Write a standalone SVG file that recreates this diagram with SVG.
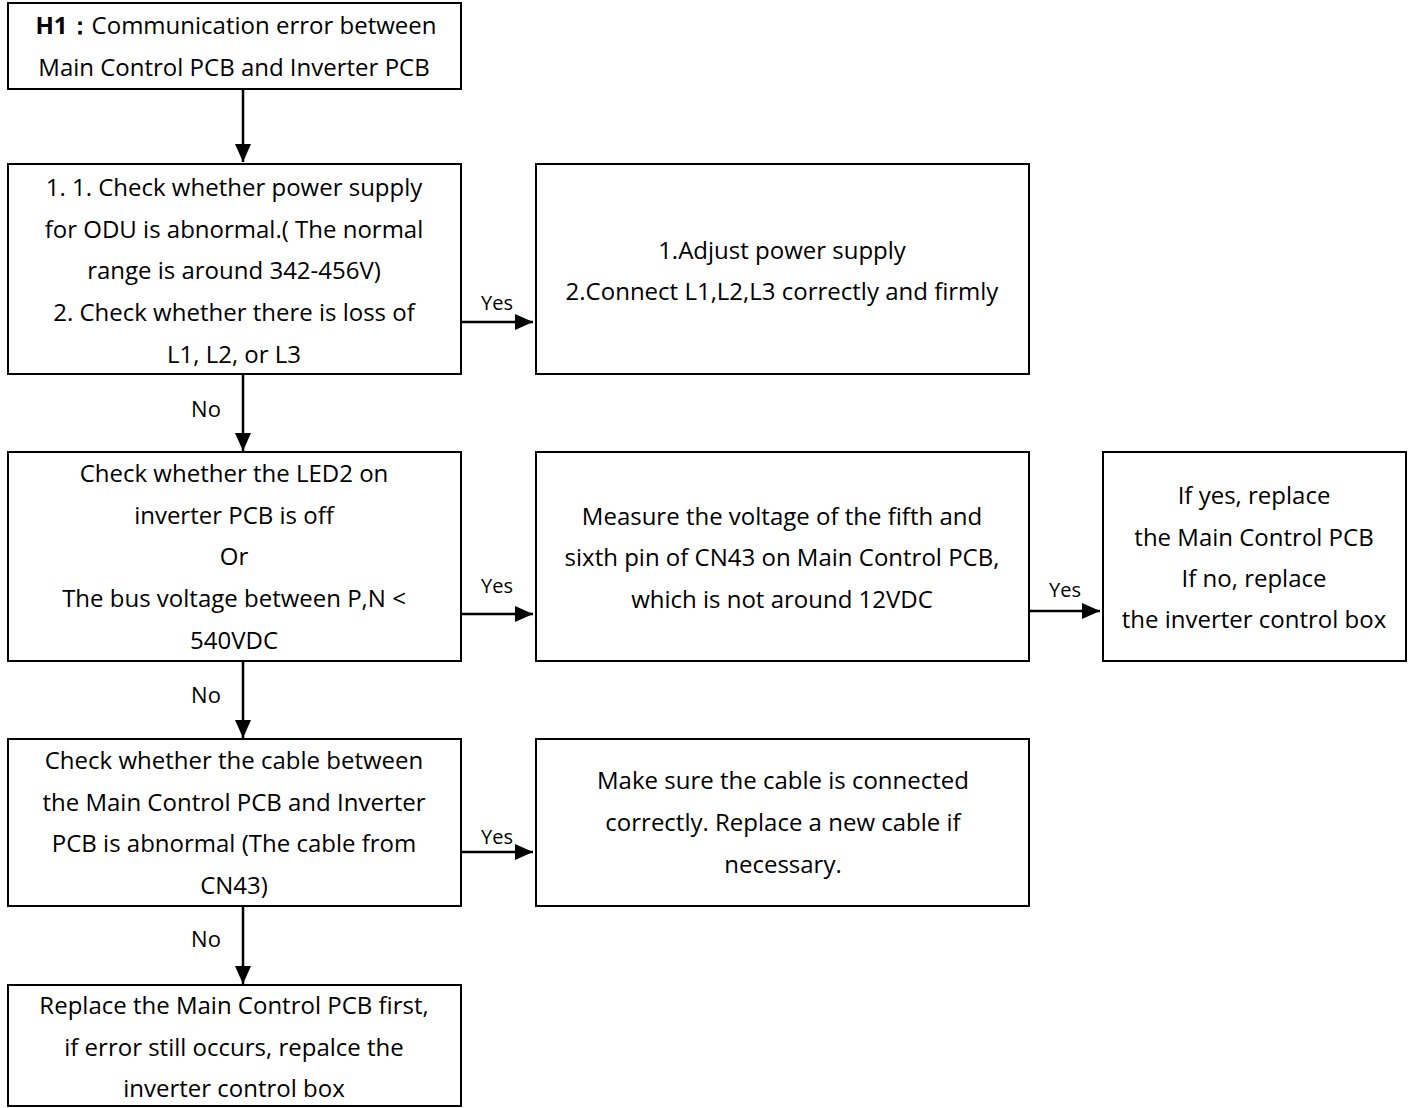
<svg xmlns="http://www.w3.org/2000/svg" width="1409" height="1108" viewBox="0 0 1409 1108">
<style>
.box{fill:#fff;stroke:#000;stroke-width:2}
text{font-family:"Open Sans","Liberation Sans",Arial,sans-serif;font-size:24px;fill:#000}
.c{text-anchor:middle}
.lbl{font-size:20px;text-anchor:middle}
.no{font-size:22px;text-anchor:middle}
.edge{stroke:#000;stroke-width:2.5;fill:none}
</style>
<defs>
<marker id="ah" markerUnits="userSpaceOnUse" markerWidth="20" markerHeight="16" refX="18" refY="8" orient="auto">
<path d="M0,0 L18,8 L0,16 Z" fill="#000"/>
</marker>
</defs>
<rect width="1409" height="1108" fill="#fff"/>
<g id="n1"><rect class="box" x="8" y="3" width="453" height="86"/>
<text class="c" x="236" y="34"><tspan font-weight="bold">H1：</tspan>Communication error between</text>
<text class="c" x="234" y="76">Main Control PCB and Inverter PCB</text></g>
<g id="n2"><rect class="box" x="8" y="164" width="453" height="210"/>
<text class="c" x="234" y="196">1. 1. Check whether power supply</text>
<text class="c" x="234" y="238">for ODU is abnormal.( The normal</text>
<text class="c" x="234" y="279">range is around 342-456V)</text>
<text class="c" x="234" y="321">2. Check whether there is loss of</text>
<text class="c" x="234" y="363">L1, L2, or L3</text></g>
<g id="n3"><rect class="box" x="536" y="164" width="493" height="210"/>
<text class="c" x="782" y="259">1.Adjust power supply</text>
<text class="c" x="782" y="300">2.Connect L1,L2,L3 correctly and firmly</text></g>
<g id="n4"><rect class="box" x="8" y="452" width="453" height="209"/>
<text class="c" x="234" y="482">Check whether the LED2 on</text>
<text class="c" x="234" y="524">inverter PCB is off</text>
<text class="c" x="234" y="565">Or</text>
<text class="c" x="234" y="607">The bus voltage between P,N &lt;</text>
<text class="c" x="234" y="649">540VDC</text></g>
<g id="n5"><rect class="box" x="536" y="452" width="493" height="209"/>
<text class="c" x="782" y="525">Measure the voltage of the fifth and</text>
<text class="c" x="782" y="566">sixth pin of CN43 on Main Control PCB,</text>
<text class="c" x="782" y="608">which is not around 12VDC</text></g>
<g id="n6"><rect class="box" x="1103" y="452" width="303" height="209"/>
<text class="c" x="1254" y="504">If yes, replace</text>
<text class="c" x="1254" y="546">the Main Control PCB</text>
<text class="c" x="1254" y="587">If no, replace</text>
<text class="c" x="1254" y="628">the inverter control box</text></g>
<g id="n7"><rect class="box" x="8" y="739" width="453" height="167"/>
<text class="c" x="234" y="769">Check whether the cable between</text>
<text class="c" x="234" y="811">the Main Control PCB and Inverter</text>
<text class="c" x="234" y="852">PCB is abnormal (The cable from</text>
<text class="c" x="234" y="894">CN43)</text></g>
<g id="n8"><rect class="box" x="536" y="739" width="493" height="167"/>
<text class="c" x="783" y="789">Make sure the cable is connected</text>
<text class="c" x="783" y="831">correctly. Replace a new cable if</text>
<text class="c" x="783" y="873">necessary.</text></g>
<g id="n9"><rect class="box" x="8" y="985" width="453" height="121"/>
<text class="c" x="234" y="1014">Replace the Main Control PCB first,</text>
<text class="c" x="234" y="1056">if error still occurs, repalce the</text>
<text class="c" x="234" y="1097">inverter control box</text></g>
<g id="edges">
<line class="edge" x1="243" y1="89" x2="243" y2="162" marker-end="url(#ah)"/>
<line class="edge" x1="461" y1="322" x2="533" y2="322" marker-end="url(#ah)"/>
<line class="edge" x1="243" y1="374" x2="243" y2="451" marker-end="url(#ah)"/>
<line class="edge" x1="461" y1="614" x2="533" y2="614" marker-end="url(#ah)"/>
<line class="edge" x1="1029" y1="611" x2="1100" y2="611" marker-end="url(#ah)"/>
<line class="edge" x1="243" y1="661" x2="243" y2="738" marker-end="url(#ah)"/>
<line class="edge" x1="461" y1="852" x2="533" y2="852" marker-end="url(#ah)"/>
<line class="edge" x1="243" y1="906" x2="243" y2="984" marker-end="url(#ah)"/>
<text class="lbl" x="497" y="310">Yes</text>
<text class="lbl" x="497" y="593">Yes</text>
<text class="lbl" x="1065" y="597">Yes</text>
<text class="lbl" x="497" y="844">Yes</text>
<text class="no" x="206" y="417">No</text>
<text class="no" x="206" y="703">No</text>
<text class="no" x="206" y="947">No</text>
</g>
</svg>
